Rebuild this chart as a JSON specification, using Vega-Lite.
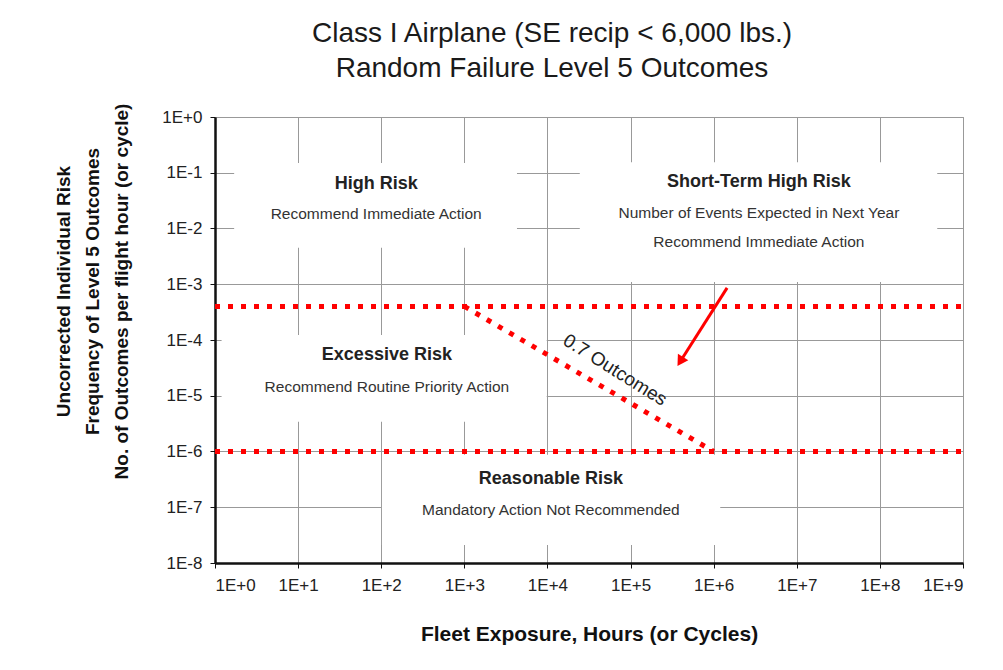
{
  "$schema": "https://vega.github.io/schema/vega-lite/v6.json",
  "width": 748,
  "height": 446,
  "autosize": {"type": "none"},
  "padding": {"left": 215, "top": 117, "right": 40, "bottom": 107},
  "background": "white",
  "view": {"stroke": "#999999", "strokeWidth": 1},
  "title": {
    "text": ["Class I Airplane (SE recip < 6,000 lbs.)", "Random Failure Level 5 Outcomes"],
    "font": "Liberation Sans",
    "fontSize": 28,
    "fontWeight": "normal",
    "color": "#1a1a1a",
    "dx": -37,
    "offset": 20,
    "lineHeight": 35
  },
  "config": {
    "axis": {
      "gridColor": "#999999",
      "gridWidth": 1,
      "domainColor": "#111111",
      "domainWidth": 2.5,
      "tickColor": "#111111",
      "tickSize": 5,
      "labelFont": "Liberation Sans",
      "labelFontSize": 17,
      "labelColor": "#222222",
      "titleFont": "Liberation Sans",
      "titleFontWeight": "bold",
      "titleColor": "#111111"
    }
  },
  "layer": [
    {
      "data": {"values": [
        {"x": 1.7, "x2": 4300, "y": 0.15, "y2": 0.0045},
        {"x": 24500, "x2": 490000000, "y": 0.155, "y2": 0.0011},
        {"x": 1.2, "x2": 9800, "y": 0.000123, "y2": 0.0000034},
        {"x": 102, "x2": 1200000, "y": 0.00000087, "y2": 0.000000021}
      ]},
      "mark": {"type": "rect", "fill": "white", "stroke": null},
      "encoding": {
        "x": {
          "field": "x", "type": "quantitative",
          "scale": {"type": "log", "domain": [1, 1000000000]},
          "axis": {
            "values": [1, 10, 100, 1000, 10000, 100000, 1000000, 10000000, 100000000, 1000000000],
            "labelExpr": "'1E+' + round(log(datum.value)/LN10)",
            "labelPadding": 9,
            "title": "Fleet Exposure, Hours (or Cycles)",
            "titleFontSize": 21,
            "titlePadding": 30
          }
        },
        "x2": {"field": "x2"},
        "y": {
          "field": "y", "type": "quantitative",
          "scale": {"type": "log", "domain": [0.00000001, 1]},
          "axis": {
            "values": [1, 0.1, 0.01, 0.001, 0.0001, 0.00001, 0.000001, 0.0000001, 0.00000001],
            "labelExpr": "round(log(datum.value)/LN10) >= 0 ? '1E+0' : '1E' + round(log(datum.value)/LN10)",
            "labelPadding": 8,
            "title": ["Uncorrected  Individual  Risk", "Frequency of Level 5 Outcomes", "No. of Outcomes per flight hour (or cycle)"],
            "titleFontSize": 19,
            "titleLineHeight": 29,
            "titleAngle": -90,
            "titleBaseline": "middle",
            "titleAlign": "center",
            "titleX": -152,
            "titleY": 174
          }
        },
        "y2": {"field": "y2"}
      }
    },
    {
      "data": {"values": [
        {"x": 1, "x2": 1000000000, "y": 0.0004, "y2": 0.0004},
        {"x": 1, "x2": 1000000000, "y": 0.000001, "y2": 0.000001},
        {"x": 1000, "x2": 1000000, "y": 0.0004, "y2": 0.000001}
      ]},
      "mark": {"type": "rule", "color": "#ff0000", "strokeWidth": 5, "strokeDash": [5, 8], "strokeCap": "butt"},
      "encoding": {
        "x": {"field": "x", "type": "quantitative", "scale": {"type": "log", "domain": [1, 1000000000]}},
        "x2": {"field": "x2"},
        "y": {"field": "y", "type": "quantitative", "scale": {"type": "log", "domain": [0.00000001, 1]}},
        "y2": {"field": "y2"}
      }
    },
    {
      "data": {"values": [
        {"x": 1450000, "x2": 407000, "y": 0.00086, "y2": 0.0000437}
      ]},
      "mark": {"type": "rule", "color": "#ff0000", "strokeWidth": 3},
      "encoding": {
        "x": {"field": "x", "type": "quantitative", "scale": {"type": "log", "domain": [1, 1000000000]}},
        "x2": {"field": "x2"},
        "y": {"field": "y", "type": "quantitative", "scale": {"type": "log", "domain": [0.00000001, 1]}},
        "y2": {"field": "y2"}
      }
    },
    {
      "data": {"values": [
        {"x": 407000, "y": 0.0000437}
      ]},
      "mark": {"type": "point", "shape": "triangle", "angle": 212, "size": 150, "filled": true, "color": "#ff0000", "opacity": 1},
      "encoding": {
        "x": {"field": "x", "type": "quantitative", "scale": {"type": "log", "domain": [1, 1000000000]}},
        "y": {"field": "y", "type": "quantitative", "scale": {"type": "log", "domain": [0.00000001, 1]}}
      }
    },
    {
      "data": {"values": [
        {"x": 87, "y": 0.063, "label": "High Risk"},
        {"x": 3500000, "y": 0.068, "label": "Short-Term High Risk"},
        {"x": 117, "y": 0.000054, "label": "Excessive Risk"},
        {"x": 11000, "y": 0.00000032, "label": "Reasonable Risk"}
      ]},
      "mark": {"type": "text", "font": "Liberation Sans", "fontSize": 18, "fontWeight": "bold", "color": "#222222", "baseline": "middle", "align": "center"},
      "encoding": {
        "x": {"field": "x", "type": "quantitative", "scale": {"type": "log", "domain": [1, 1000000000]}},
        "y": {"field": "y", "type": "quantitative", "scale": {"type": "log", "domain": [0.00000001, 1]}},
        "text": {"field": "label"}
      }
    },
    {
      "data": {"values": [
        {"x": 87, "y": 0.018, "label": "Recommend Immediate Action"},
        {"x": 3500000, "y": 0.019, "label": "Number of Events Expected in Next Year"},
        {"x": 3500000, "y": 0.0057, "label": "Recommend Immediate Action"},
        {"x": 117, "y": 0.0000144, "label": "Recommend Routine Priority Action"},
        {"x": 11000, "y": 0.000000089, "label": "Mandatory Action Not Recommended"}
      ]},
      "mark": {"type": "text", "font": "Liberation Sans", "fontSize": 15.5, "fontWeight": "normal", "color": "#333333", "baseline": "middle", "align": "center"},
      "encoding": {
        "x": {"field": "x", "type": "quantitative", "scale": {"type": "log", "domain": [1, 1000000000]}},
        "y": {"field": "y", "type": "quantitative", "scale": {"type": "log", "domain": [0.00000001, 1]}},
        "text": {"field": "label"}
      }
    },
    {
      "data": {"values": [
        {"x": 65000, "y": 0.000029, "label": "0.7 Outcomes"}
      ]},
      "mark": {"type": "text", "font": "Liberation Sans", "fontSize": 19, "color": "#222222", "baseline": "middle", "align": "center", "angle": 32},
      "encoding": {
        "x": {"field": "x", "type": "quantitative", "scale": {"type": "log", "domain": [1, 1000000000]}},
        "y": {"field": "y", "type": "quantitative", "scale": {"type": "log", "domain": [0.00000001, 1]}},
        "text": {"field": "label"}
      }
    }
  ]
}
